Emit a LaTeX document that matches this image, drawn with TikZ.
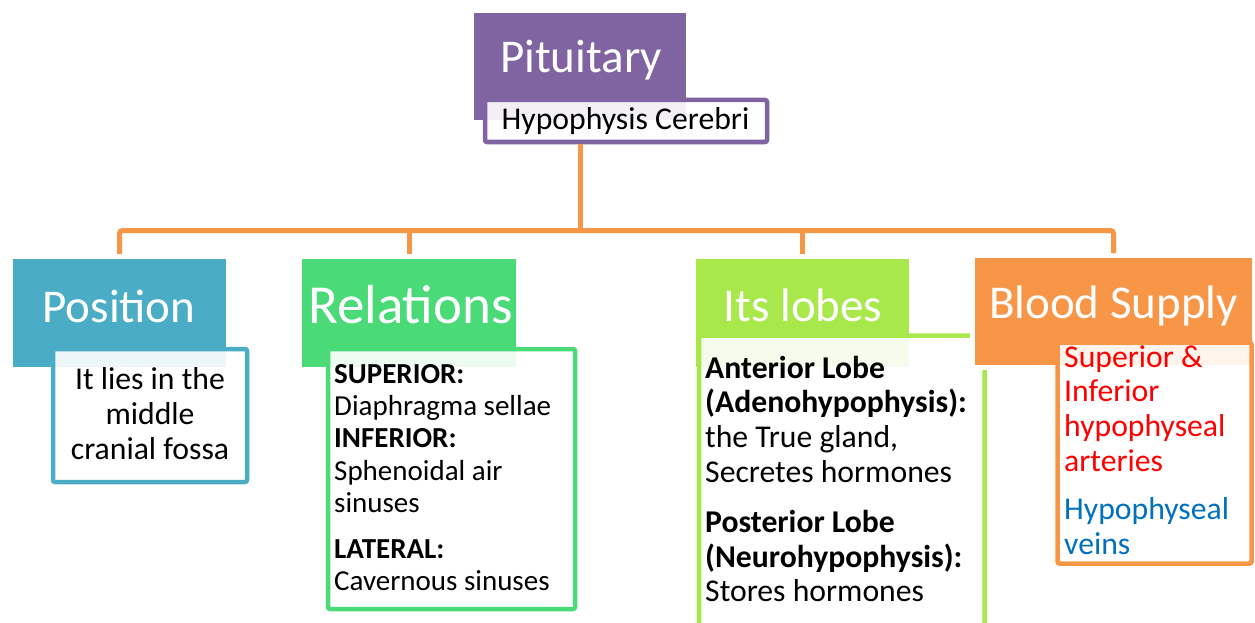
\documentclass[tikz,border=0pt]{standalone}
\usepackage{fontspec}
\setmainfont{Carlito}
\definecolor{cPurple}{HTML}{8064A2}
\definecolor{cBlue}{HTML}{4BACC6}
\definecolor{cGreen}{HTML}{4ADA78}
\definecolor{cLime}{HTML}{A9E84B}
\definecolor{cOrange}{HTML}{F79646}
\definecolor{cRed}{HTML}{FF0000}
\definecolor{cVein}{HTML}{0070C0}
\newcommand\txtL[1]{\begin{tabular}[t]{@{}l@{}}#1\end{tabular}}
\newcommand\txtC[1]{\begin{tabular}[t]{@{}c@{}}#1\end{tabular}}
\begin{document}
\begin{tikzpicture}[x=1pt,y=-1pt,
  hdr/.style={rectangle, inner sep=0pt, outer sep=0pt, anchor=north west},
  tbox/.style={rectangle, line width=4.5pt, fill=white, fill opacity=0.9, draw opacity=1, rounded corners=2pt, inner sep=0pt, outer sep=0pt, anchor=north west},
  conn/.style={draw=cOrange, line width=5pt, rounded corners=3pt},
  htxt/.style={text=white, anchor=base, inner sep=0pt, font=\fontsize{47}{56}\selectfont},
  btxt/.style={anchor=base west, inner sep=0pt, font=\fontsize{31.7}{34.8}\selectfont},
]
\useasboundingbox (0,0) rectangle (1255,623);
\clip (0,0) rectangle (1255,623);
% headers
\node[hdr, fill=cPurple, minimum width=212pt, minimum height=107pt] (pit) at (474,13) {};
\node[hdr, fill=cBlue, minimum width=213pt, minimum height=108pt] (pos) at (13,259) {};
\node[hdr, fill=cGreen, minimum width=214pt, minimum height=108pt] (rel) at (302,259) {};
\node[hdr, fill=cLime, minimum width=213pt, minimum height=108pt] (lob) at (696,259) {};
% lobes box (runs off the bottom)
\node[tbox, draw=cLime, minimum width=285.5pt, minimum height=320pt] (lobbox) at (699,335.5) {};
% blood supply header with white outline
\fill[white] (970,253) rectangle (1260,370);
\node[hdr, fill=cOrange, minimum width=277pt, minimum height=107pt] (blood) at (975,258) {};
% text boxes
\node[tbox, draw=cPurple, minimum width=282pt, minimum height=42pt] (hyp) at (485,100) {};
\node[tbox, draw=cBlue, minimum width=194pt, minimum height=133pt] (posbox) at (53,349) {};
\node[tbox, draw=cGreen, minimum width=247pt, minimum height=260pt] (relbox) at (328,349) {};
\node[tbox, draw=cOrange, minimum width=194pt, minimum height=221pt] (bloodbox) at (1057.5,342.5) {};
% connectors
\coordinate (bus) at (580,230.5);
\draw[conn, shorten <=2.25pt] (hyp.south -| bus) -- (bus);
\draw[conn, shorten <=5pt, shorten >=5pt] (pos.north) |- (bus) -| (blood.north);
\draw[conn, shorten <=5pt] (rel.north) -- (rel.north |- bus);
\draw[conn, shorten <=5pt] (lob.north) -- (lob.north |- bus);
% header texts
\node[htxt] (pitT) at (581,73) {Pituitary};
\node[htxt] (posT) at (119,322) {Position};
\node[htxt, font=\fontsize{55}{64}\selectfont] (relT) at (410.5,323) {Relations};
\node[htxt] (lobT) at (803,321) {Its lobes};
\node[htxt] (bloodT) at (1113.5,318) {Blood Supply};
% body texts
\node[anchor=base, inner sep=0pt, font=\fontsize{31.7}{34.8}\selectfont] (hypT) at (625.5,129) {Hypophysis Cerebri};
\node[anchor=base, inner sep=0pt, font=\fontsize{31.7}{35}\selectfont] (posT2) at (150,389) {\txtC{It lies in the\\middle\\cranial fossa}};
\node[btxt, font=\fontsize{29}{32.4}\selectfont] (relT2) at (334,383) {\txtL{\textbf{SUPERIOR:}\\Diaphragma sellae\\\textbf{INFERIOR:}\\Sphenoidal air\\sinuses\\[13.5pt]\textbf{LATERAL:}\\Cavernous sinuses}};
\node[btxt] (lobT2) at (705,378) {\txtL{\textbf{Anterior Lobe}\\\textbf{(Adenohypophysis):}\\the True gland,\\Secretes hormones\\[15pt]\textbf{Posterior Lobe}\\\textbf{(Neurohypophysis):}\\Stores hormones}};
\node[btxt] (bloodT2) at (1064,367) {\txtL{\textcolor{cRed}{Superior \&}\\\textcolor{cRed}{Inferior}\\\textcolor{cRed}{hypophyseal}\\\textcolor{cRed}{arteries}\\[13pt]\textcolor{cVein}{Hypophyseal}\\\textcolor{cVein}{veins}}};
\end{tikzpicture}
\end{document}
